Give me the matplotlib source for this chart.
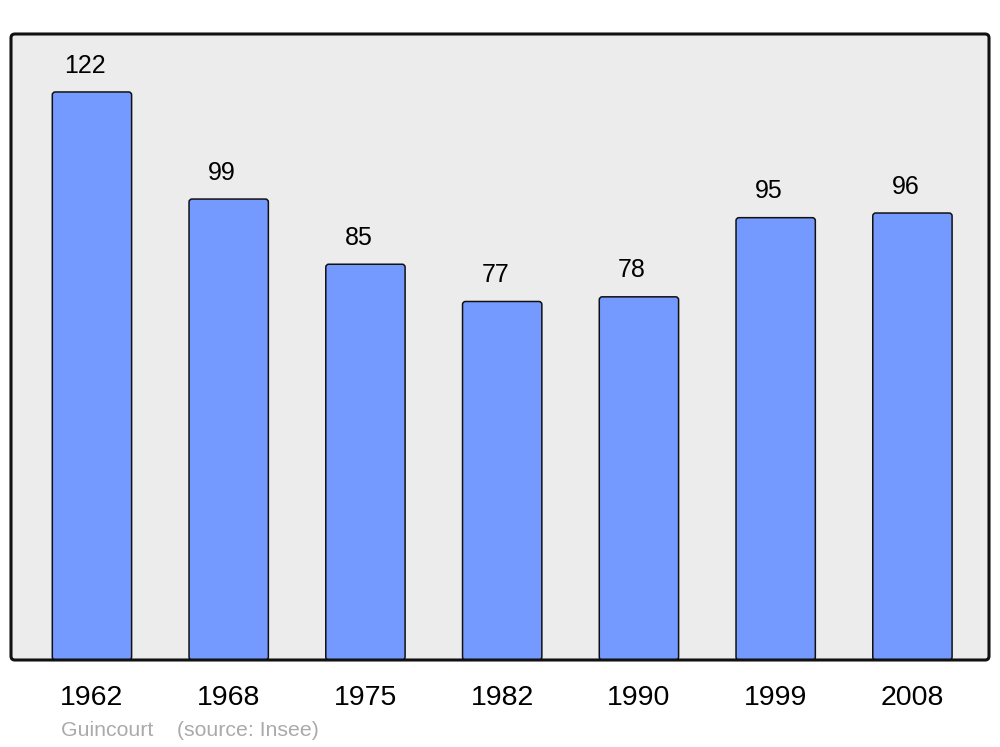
import matplotlib.pyplot as plt
from matplotlib.patches import FancyBboxPatch

years = ["1962", "1968", "1975", "1982", "1990", "1999", "2008"]
population = [122, 99, 85, 77, 78, 95, 96]

plt.rcParams['font.family'] = ['Liberation Sans', 'DejaVu Sans']

fig = plt.figure(figsize=(10, 7.47), dpi=100)
ax = fig.add_axes([11 / 1000, 1 - 660 / 747, 978 / 1000, 626 / 747])
ax.set_xlim(-0.592, 6.56)
ax.set_ylim(0, 134.45)
ax.patch.set_visible(False)
for s in ax.spines.values():
    s.set_visible(False)

# rounded frame: grey fill under the bars, black edge over them
for fc, ec, z in [("#ececec", "none", 0), ("none", "#111111", 3)]:
    frame = FancyBboxPatch((0, 0), 1, 1, boxstyle="round,pad=0,rounding_size=0.004",
                           mutation_aspect=1.56, transform=ax.transAxes,
                           facecolor=fc, edgecolor=ec, linewidth=2.2,
                           zorder=z, clip_on=False)
    ax.add_patch(frame)

x = range(len(years))
bars = ax.bar(x, population, width=0.58)
for b in bars:
    b.set_visible(False)
    rb = FancyBboxPatch((b.get_x(), b.get_y()), b.get_width(), b.get_height(),
                        boxstyle="round,pad=0,rounding_size=0.022",
                        mutation_aspect=29.4, facecolor="#7499ff",
                        edgecolor="#111111", linewidth=1.1, zorder=2)
    ax.add_patch(rb)

for xi, v in zip(x, population):
    ax.annotate(str(v), (xi, v), xytext=(-5, 19), textcoords="offset points",
                ha="center", va="center", fontsize=18, color="black")

ax.set_xticks(list(x))
ax.set_xticklabels(years, fontsize=20.5)
ax.tick_params(axis="x", length=0, pad=18)
ax.set_yticks([])

fig.text(0.061, 1 - 730 / 747, "Guincourt    (source: Insee)", fontsize=15.3,
         color="#aaaaaa", ha="left", va="center")

fig.savefig("out.png", dpi=100)
